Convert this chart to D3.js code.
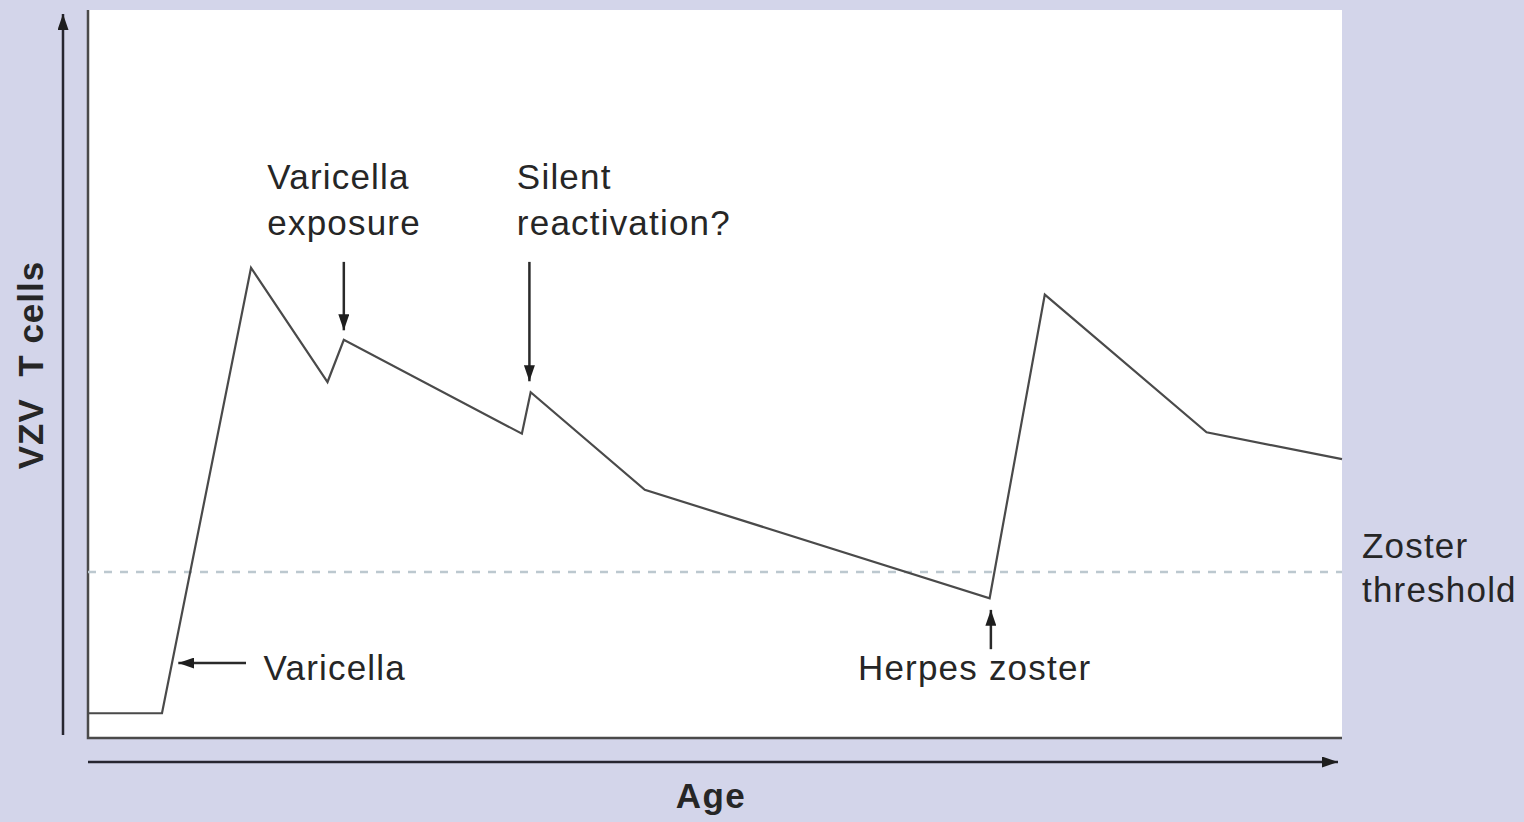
<!DOCTYPE html>
<html lang="en">
<head>
    <meta charset="UTF-8">
    <title>VZV T cells vs Age</title>
    <script src="https://d3js.org/d3.v7.min.js"></script>
    <style>
        body { margin: 0; background: #d3d5ea; }
        svg { display: block; font-family: "Liberation Sans", Arial, sans-serif; }
        text { fill: #262626; }
    </style>
</head>
<body>
    <div id="chart"></div>
    <script>
        const width = 1524;
        const height = 822;

        // curve (age in arbitrary units 0-100, T cell level 0-100)
        const ages   = [0, 5.9, 13.0, 19.1, 20.4, 34.6, 35.3, 44.4, 71.9, 76.3, 89.2, 100];
        const tcells = [3.4, 3.4, 64.6, 48.9, 54.7, 41.8, 47.5, 34.1, 19.2, 60.9, 42.0, 38.3];
        const threshold = 22.8;

        // annotations: arrow from (x1,y1) to tip (x2,y2), in data units
        const arrowNames = ['varicella', 'exposure', 'silent', 'zoster'];
        const arrowFrom  = [[12.6, 10.3], [20.4, 65.4], [35.2, 65.4], [72.0, 12.2]];
        const arrowTo    = [[7.2, 10.3], [20.4, 56.0], [35.2, 49.0], [72.0, 17.6]];

        const labelLines = [['Varicella'], ['Varicella', 'exposure'], ['Silent', 'reactivation?'], ['Herpes zoster']];
        const labelPos   = [[14.0, 7.9], [14.3, 75.4], [34.2, 75.4], [61.4, 7.9]];

        const margin = { left: 88, right: 182, top: 10, bottom: 84 };

        const x = d3.scaleLinear().domain([0, 100]).range([margin.left, width - margin.right]);
        const y = d3.scaleLinear().domain([0, 100]).range([height - margin.bottom, margin.top]);

        const svg = d3.select('#chart').append('svg')
            .attr('width', width)
            .attr('height', height);

        const defs = svg.append('defs');
        defs.append('marker')
            .attr('id', 'head')
            .attr('viewBox', '0 0 16 11')
            .attr('preserveAspectRatio', 'none')
            .attr('refX', 16).attr('refY', 5.5)
            .attr('markerWidth', 16).attr('markerHeight', 11)
            .attr('markerUnits', 'userSpaceOnUse')
            .attr('orient', 'auto')
            .append('path').attr('d', 'M0,0L16,5.5L0,11z').attr('fill', '#1e1e1e');

        // plot area
        svg.append('rect')
            .attr('x', x(0)).attr('y', y(100))
            .attr('width', x(100) - x(0)).attr('height', y(0) - y(100))
            .attr('fill', '#ffffff');

        svg.append('path')
            .attr('d', `M${x(0)},${y(100)}V${y(0)}H${x(100)}`)
            .attr('fill', 'none')
            .attr('stroke', '#4a4a4a')
            .attr('stroke-width', 2.5);

        // outer axis arrows
        svg.append('line')
            .attr('x1', x(0) - 25).attr('x2', x(0) - 25)
            .attr('y1', y(0) - 3).attr('y2', y(100) + 4)
            .attr('stroke', '#262630').attr('stroke-width', 2.5)
            .attr('marker-end', 'url(#head)');
        svg.append('line')
            .attr('x1', x(0)).attr('x2', x(100) - 4)
            .attr('y1', y(0) + 24).attr('y2', y(0) + 24)
            .attr('stroke', '#262630').attr('stroke-width', 2.5)
            .attr('marker-end', 'url(#head)');

        // threshold
        svg.append('line')
            .attr('x1', x(0)).attr('x2', x(100))
            .attr('y1', y(threshold)).attr('y2', y(threshold))
            .attr('stroke', '#bcc8cf')
            .attr('stroke-width', 2.5)
            .attr('stroke-dasharray', '8,8');

        // curve
        const pts = ages.map((a, i) => [a, tcells[i]]);
        const line = d3.line().x(d => x(d[0])).y(d => y(d[1]));
        svg.append('path')
            .datum(pts)
            .attr('d', line)
            .attr('fill', 'none')
            .attr('stroke', '#4a4a4a')
            .attr('stroke-width', 2.2)
            .attr('stroke-linejoin', 'miter');

        // annotation arrows
        svg.selectAll('.ann-arrow')
            .data(arrowNames)
            .enter().append('line')
            .attr('class', 'ann-arrow')
            .attr('x1', (d, i) => x(arrowFrom[i][0]))
            .attr('y1', (d, i) => y(arrowFrom[i][1]))
            .attr('x2', (d, i) => x(arrowTo[i][0]))
            .attr('y2', (d, i) => y(arrowTo[i][1]))
            .attr('stroke', '#2a2a2a')
            .attr('stroke-width', 2.5)
            .attr('marker-end', 'url(#head)');

        // annotation labels
        const labels = svg.selectAll('.ann-label')
            .data(labelLines)
            .enter().append('text')
            .attr('class', 'ann-label')
            .attr('x', (d, i) => x(labelPos[i][0]))
            .attr('y', (d, i) => y(labelPos[i][1]))
            .attr('font-size', 35)
            .attr('letter-spacing', 1.2);
        labels.selectAll('tspan')
            .data(d => d)
            .enter().append('tspan')
            .attr('x', function() { return d3.select(this.parentNode).attr('x'); })
            .attr('dy', (d, i) => i === 0 ? 0 : 46)
            .text(d => d);

        const thr = svg.append('text')
            .attr('x', x(100) + 20)
            .attr('y', y(threshold) - 14)
            .attr('font-size', 35)
            .attr('letter-spacing', 1.2);
        thr.append('tspan').attr('x', x(100) + 20).text('Zoster');
        thr.append('tspan').attr('x', x(100) + 20).attr('dy', 44).text('threshold');

        // axis titles
        svg.append('text')
            .attr('x', (x(0) + x(100)) / 2 - 4)
            .attr('y', height - 14)
            .attr('text-anchor', 'middle')
            .attr('font-size', 35)
            .attr('font-weight', 'bold')
            .attr('letter-spacing', 1.5)
            .text('Age');

        svg.append('text')
            .attr('transform', `translate(43, ${365}) rotate(-90)`)
            .attr('text-anchor', 'middle')
            .attr('font-size', 35)
            .attr('font-weight', 'bold')
            .attr('letter-spacing', 1)
            .attr('xml:space', 'preserve')
            .text('VZV  T cells');
    </script>
</body>
</html>
